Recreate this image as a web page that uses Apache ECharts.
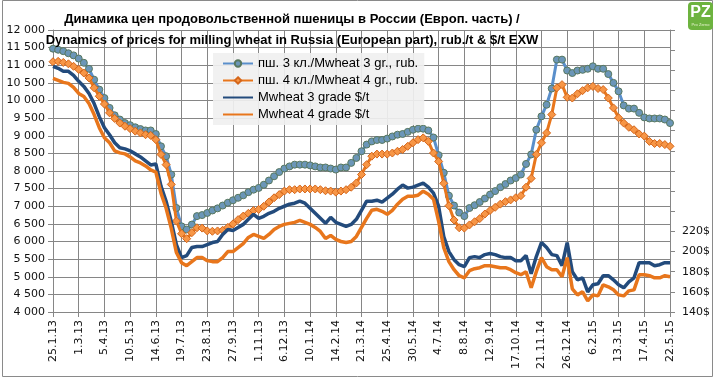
<!DOCTYPE html>
<html><head><meta charset="utf-8">
<script src="https://cdn.jsdelivr.net/npm/echarts@6/dist/echarts.min.js"></script>
<style>html,body{margin:0;padding:0;background:#fff}#c{width:715px;height:379px}</style>
</head><body><div id="c"></div>
<script>
const categories = ['25.1.13','1.2.13','8.2.13','15.2.13','22.2.13','1.3.13','8.3.13','15.3.13','22.3.13','29.3.13',
'5.4.13','12.4.13','19.4.13','26.4.13','3.5.13','10.5.13','17.5.13','24.5.13','31.5.13','7.6.13',
'14.6.13','21.6.13','28.6.13','5.7.13','12.7.13','19.7.13','26.7.13','2.8.13','9.8.13','16.8.13',
'23.8.13','30.8.13','6.9.13','13.9.13','20.9.13','27.9.13','4.10.13','11.10.13','18.10.13','25.10.13',
'1.11.13','8.11.13','15.11.13','22.11.13','29.11.13','6.12.13','13.12.13','20.12.13','27.12.13','3.1.14',
'10.1.14','17.1.14','24.1.14','31.1.14','7.2.14','14.2.14','21.2.14','28.2.14','7.3.14','14.3.14',
'21.3.14','28.3.14','4.4.14','11.4.14','18.4.14','25.4.14','2.5.14','9.5.14','16.5.14','23.5.14',
'30.5.14','6.6.14','13.6.14','20.6.14','27.6.14','4.7.14','11.7.14','18.7.14','25.7.14','1.8.14',
'8.8.14','15.8.14','22.8.14','29.8.14','5.9.14','12.9.14','19.9.14','26.9.14','3.10.14','10.10.14',
'17.10.14','24.10.14','31.10.14','7.11.14','14.11.14','21.11.14','28.11.14','5.12.14','12.12.14','19.12.14',
'26.12.14','9.1.15','16.1.15','23.1.15','30.1.15','6.2.15','13.2.15','20.2.15','27.2.15','6.3.15',
'13.3.15','20.3.15','27.3.15','3.4.15','10.4.15','17.4.15','24.4.15','1.5.15','8.5.15','15.5.15','22.5.15'];

const rub3 = [11470,11440,11400,11340,11280,11190,11070,10900,10590,10310,
10070,9790,9580,9460,9360,9300,9240,9190,9150,9150,
9050,8700,8420,7900,6950,6430,6340,6480,6720,6750,
6810,6880,6940,7020,7100,7170,7240,7310,7400,7470,
7520,7610,7730,7850,7970,8070,8130,8180,8180,8180,
8160,8130,8100,8100,8070,8040,8100,8100,8230,8370,
8560,8750,8840,8880,8880,8920,8980,9030,9050,9110,
9170,9200,9200,9150,8950,8450,7950,7300,7020,6820,
6720,6950,7030,7120,7220,7330,7430,7540,7630,7730,
7800,7900,8200,8470,9170,9550,9880,10340,11160,11160,
10850,10780,10850,10870,10900,10970,10900,10900,10750,10500,
10260,9860,9770,9770,9650,9520,9490,9490,9490,9460,9360];

const rub4 = [11100,11110,11080,11040,10970,10880,10780,10640,10360,10120,
9900,9650,9490,9360,9270,9200,9130,9080,9030,9010,
8890,8470,8180,7620,6580,6220,6080,6250,6390,6380,
6300,6290,6300,6320,6400,6500,6620,6720,6800,6880,
6910,7000,7120,7240,7330,7430,7470,7470,7490,7490,
7490,7490,7470,7440,7430,7400,7430,7470,7540,7660,
7900,8180,8420,8480,8480,8480,8510,8560,8610,8700,
8800,8890,8940,8840,8510,8270,7650,7015,6610,6390,
6380,6470,6560,6650,6780,6880,6970,7060,7130,7180,
7240,7300,7540,7790,8470,8800,9080,9600,10360,10450,
10090,10070,10190,10280,10360,10400,10340,10310,10070,9790,
9510,9360,9240,9170,9050,8990,8840,8780,8780,8750,8700];

const usd3 = [384,382,379,379,375,369,364,357,347,334,
323,316,308,303,302,300,297,294,290,286,
287,265,250,230,207,194,196,204,205,205,
207,209,210,217,222,221,224,227,232,237,
233,235,238,240,243,245,247,248,250,248,
243,238,233,228,234,229,227,225,227,232,
241,250,250,251,249,253,257,262,266,263,
264,266,268,264,258,245,215,200,192,187,
185,194,195,194,197,198,197,195,194,194,
191,191,196,178,195,209,204,197,196,186,
209,180,172,174,160,167,168,176,176,172,
167,164,170,174,189,189,189,186,187,189,189];

const usd4 = [372,370,368,367,363,357,354,347,336,323,
313,308,300,298,297,294,290,288,285,281,
279,258,243,223,199,189,186,190,194,194,
191,190,190,194,200,200,204,208,214,217,
215,213,217,222,225,227,228,229,231,229,
227,224,220,213,216,212,210,209,210,215,
224,233,241,242,240,237,241,247,252,255,
255,256,260,257,252,230,204,190,182,176,
174,181,183,184,186,186,185,184,184,182,
179,177,180,164,180,194,185,182,182,175,
194,163,157,160,151,157,156,167,165,162,
157,156,161,162,177,177,176,174,174,176,175];

const seriesNames = ['пш. 3 кл./Mwheat 3 gr., rub.','пш. 4 кл./Mwheat 4 gr., rub.','Mwheat 3 grade $/t','Mwheat 4 grade $/t'];
const titleLines = ['Динамика цен продовольственной пшеницы в России (Европ. часть) /',
  'Dynamics of prices for milling wheat in Russia (European part), rub./t & $/t EXW'];

const AX = '#868686';
const FONT = 'DejaVu Sans';
const TFONT = "'Liberation Sans', sans-serif";

const chart = echarts.init(document.getElementById('c'), null, {renderer: 'canvas'});
chart.setOption({
  animation: false,
  backgroundColor: '#fff',
  title: {
    text: titleLines.join('\n'),
    left: 287, top: 4, textAlign: 'center',
    textStyle: {fontFamily: TFONT, fontSize: 13, fontWeight: 'bold', color: '#000', lineHeight: 21}
  },
  graphic: [
    {type: 'rect', shape: {x: 2.5, y: 0.5, width: 710, height: 376}, style: {fill: 'none', stroke: '#8a8a8a', lineWidth: 1}, silent: true, z: -10},
    {type: 'group', left: 688, top: 2, children: [
      {type: 'rect', shape: {x: 0, y: 0, width: 25, height: 28, r: 4}, style: {fill: '#6db33f'}},
      {type: 'text', style: {text: 'PZ', x: 12.5, y: 3, textAlign: 'center', fill: '#fff', font: 'bold 16px Liberation Sans'}},
      {type: 'text', style: {text: 'Pro Zerno', x: 12.5, y: 21, textAlign: 'center', fill: '#e8f5d0', font: '4px Liberation Sans'}}
    ]}
  ],
  legend: {
    left: 213, top: 53, orient: 'vertical',
    itemWidth: 30, itemHeight: 8, itemGap: 4,
    padding: [4, 6, 4, 9],
    backgroundColor: 'rgba(240,240,240,0.92)',
    textStyle: {fontFamily: "'Liberation Sans', sans-serif", fontSize: 13, color: '#000', lineHeight: 12},
    data: [
      {name: seriesNames[0]},
      {name: seriesNames[1]},
      {name: seriesNames[2], itemStyle: {opacity: 0}},
      {name: seriesNames[3], itemStyle: {opacity: 0}}
    ]
  },
  grid: {left: 53, right: 45, top: 30, bottom: 67, containLabel: false},
  xAxis: {
    type: 'category', data: categories, boundaryGap: false,
    axisLine: {lineStyle: {color: AX, width: 1}},
    axisTick: {show: true, interval: 4, length: 5, lineStyle: {color: AX}},
    axisLabel: {interval: 4, rotate: 90, margin: 8, fontFamily: FONT, fontSize: 11, color: '#111'},
    splitLine: {show: true, interval: 4, lineStyle: {color: AX, width: 1}}
  },
  yAxis: [
    {
      type: 'value', min: 4000, max: 12000, interval: 500, position: 'left',
      axisLine: {show: true, lineStyle: {color: AX}},
      axisTick: {show: true, length: 5, lineStyle: {color: AX}},
      axisLabel: {fontFamily: FONT, fontSize: 11, color: '#111', margin: 8,
        formatter: v => String(v).replace(/\B(?=(\d{3})+(?!\d))/g, ' ')},
      splitLine: {show: true, lineStyle: {color: AX, width: 1}}
    },
    {
      type: 'value', min: 140, max: 420, interval: 20, position: 'right',
      axisLine: {show: true, lineStyle: {color: AX}},
      axisTick: {show: true, length: 5, lineStyle: {color: AX}},
      axisLabel: {fontFamily: FONT, fontSize: 11, color: '#111', margin: 12,
        formatter: v => (v <= 220 ? v + '$' : '')},
      splitLine: {show: false}
    }
  ],
  series: [
    {name: seriesNames[0], type: 'line', yAxisIndex: 0, data: rub3,
      symbol: 'circle', symbolSize: 7, showSymbol: true, showAllSymbol: true,
      lineStyle: {color: '#5a8fcb', width: 3},
      itemStyle: {color: '#6b96b8', borderColor: '#58785f', borderWidth: 1}, z: 3},
    {name: seriesNames[1], type: 'line', yAxisIndex: 0, data: rub4,
      symbol: 'diamond', symbolSize: 8, showSymbol: true, showAllSymbol: true,
      lineStyle: {color: '#e8761c', width: 3},
      itemStyle: {color: '#f79646', borderColor: '#d5661a', borderWidth: 1}, z: 4},
    {name: seriesNames[2], type: 'line', yAxisIndex: 1, data: usd3,
      symbol: 'none', lineStyle: {color: '#234b7c', width: 3.5},
      itemStyle: {color: '#234b7c'}, z: 5},
    {name: seriesNames[3], type: 'line', yAxisIndex: 1, data: usd4,
      symbol: 'none', lineStyle: {color: '#e8761c', width: 3.5},
      itemStyle: {color: '#e8761c'}, z: 6}
  ]
});
</script></body></html>
